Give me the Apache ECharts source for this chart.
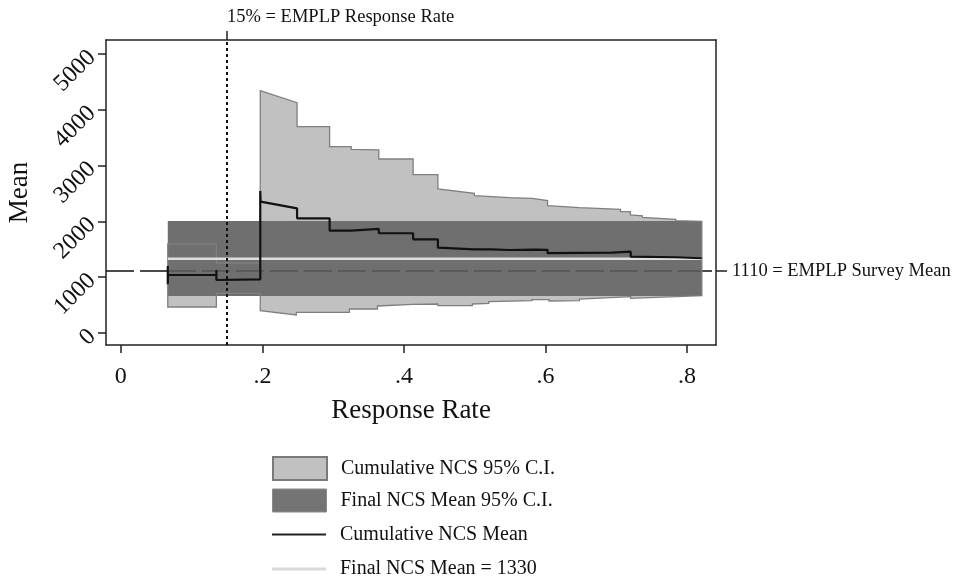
<!DOCTYPE html>
<html>
<head>
<meta charset="utf-8">
<script src="https://cdn.jsdelivr.net/npm/echarts@6/dist/echarts.min.js"></script>
<style>html,body{margin:0;padding:0;background:#fff;}#c{width:956px;height:581px;}</style>
</head>
<body>
<div id="c"></div>
<script>
// ---- data ----
const xTicks = [0, 0.2, 0.4, 0.6, 0.8];
const xTickLabels = ['0', '.2', '.4', '.6', '.8'];
const yTicks = [0, 1000, 2000, 3000, 4000, 5000];
const yTickLabels = ['0', '1000', '2000', '3000', '4000', '5000'];
const emplpRate = 0.15;
const emplpMean = 1110;
const finalMean = 1330;
const finalCI = [665, 2005];
const finalRange = [0.0663, 0.821];

const ciUpper = [[0.0663,1595],[0.135,1595],[0.135,1254],[0.197,1254],[0.197,4342],[0.249,4127],[0.249,3697],
  [0.295,3697],[0.295,3339],[0.3255,3339],[0.3255,3290],[0.3645,3280],[0.3645,3118],[0.413,3118],[0.413,2837],
  [0.448,2837],[0.448,2581],[0.4995,2504],[0.4995,2461],[0.549,2425],[0.581,2413],[0.603,2371],[0.603,2282],
  [0.648,2246],[0.706,2217],[0.706,2174],[0.72,2174],[0.72,2115],[0.737,2100],[0.737,2073],[0.784,2037],
  [0.784,2012],[0.821,2001]];
const ciLower = [[0.0663,466],[0.135,466],[0.135,711],[0.197,711],[0.197,400],[0.248,323],[0.248,371],[0.323,371],
  [0.323,430],[0.3626,430],[0.3626,484],[0.412,514],[0.448,520],[0.448,489],[0.4967,489],[0.4967,520],[0.52,532],
  [0.52,562],[0.581,580],[0.581,597],[0.605,597],[0.605,573],[0.648,580],[0.648,609],[0.7205,651],[0.7205,622],
  [0.821,670]];
const cumMean = [[0.0663,1200],[0.0663,875],[0.0665,1039],[0.135,1039],[0.135,1130],[0.135,950],[0.1355,962],
  [0.197,962],[0.197,2545],[0.1975,2353],[0.249,2234],[0.249,2055],[0.295,2055],[0.295,1833],[0.3255,1833],
  [0.3255,1864],[0.3645,1864],[0.3645,1787],[0.413,1787],[0.413,1679],[0.448,1679],[0.448,1529],[0.4995,1500],
  [0.523,1500],[0.549,1487],[0.584,1493],[0.603,1490],[0.603,1430],[0.694,1440],[0.694,1457],[0.7205,1457],
  [0.7205,1368],[0.784,1357],[0.821,1339]];

const xMin = -0.021, xMax = 0.841, yMin = -215, yMax = 5250;
const FONT = 'Liberation Serif';
const TXT = '#111';

const bandPoly = ciUpper.concat(ciLower.slice().reverse());

function polyItem(points, style) {
  return function (params, api) {
    return { type: 'polygon', shape: { points: points.map(p => api.coord(p)) }, style: style };
  };
}
function rectItem(params, api) {
  const p1 = api.coord([finalRange[0], finalCI[1]]);
  const p2 = api.coord([finalRange[1], finalCI[0]]);
  return { type: 'rect', shape: { x: p1[0], y: p1[1], width: p2[0] - p1[0], height: p2[1] - p1[1] },
           style: { fill: '#6f6f6f' } };
}
function lookup(ticks, labels) {
  return v => { const i = ticks.findIndex(t => Math.abs(t - v) < 1e-6); return i >= 0 ? labels[i] : ''; };
}

const chart = echarts.init(document.getElementById('c'), null, { renderer: 'canvas' });
const axisLine = { show: true, onZero: false, lineStyle: { color: '#222', width: 1.5 } };
const legendText = { fontFamily: FONT, fontSize: 20, color: TXT, padding: [0, 0, 0, 9] };

function legendRow(name, top, h, item) {
  return { orient: 'vertical', left: 267, top: top, itemWidth: 54, itemHeight: h, selectedMode: false,
    textStyle: legendText, data: [Object.assign({ name: name }, item)] };
}

chart.setOption({
  animation: false,
  backgroundColor: '#fff',
  grid: { left: 106, right: 240, top: 40, bottom: 236, containLabel: false, outerBoundsMode: 'none' },
  xAxis: [{
    type: 'value', min: xMin, max: xMax, position: 'bottom',
    axisLine: axisLine, splitLine: { show: false },
    axisTick: { show: true, length: 8, customValues: xTicks, lineStyle: { color: '#222', width: 1.5 } },
    axisLabel: { customValues: xTicks, margin: 20, fontFamily: FONT, fontSize: 24, color: TXT,
      formatter: lookup(xTicks, xTickLabels) },
    name: 'Response Rate', nameLocation: 'middle', nameGap: 52,
    nameTextStyle: { fontFamily: FONT, fontSize: 27, color: TXT }
  }, {
    type: 'value', min: xMin, max: xMax, position: 'top',
    axisLine: axisLine, splitLine: { show: false },
    axisTick: { show: true, length: 9, customValues: [emplpRate], lineStyle: { color: '#222', width: 1.5 } },
    axisLabel: { customValues: [emplpRate], margin: 13, align: 'left', fontFamily: FONT, fontSize: 18.5, color: TXT,
      formatter: () => '15% = EMPLP Response Rate' }
  }],
  yAxis: [{
    type: 'value', min: yMin, max: yMax, position: 'left',
    axisLine: axisLine, splitLine: { show: false },
    axisTick: { show: true, length: 8, customValues: yTicks, lineStyle: { color: '#222', width: 1.5 } },
    axisLabel: { customValues: yTicks, rotate: 45, margin: 14, fontFamily: FONT, fontSize: 24, color: TXT,
      formatter: lookup(yTicks, yTickLabels) },
    name: 'Mean', nameLocation: 'middle', nameGap: 73, nameRotate: 90,
    nameTextStyle: { fontFamily: FONT, fontSize: 27, color: TXT }
  }, {
    type: 'value', min: yMin, max: yMax, position: 'right',
    axisLine: axisLine, splitLine: { show: false },
    axisTick: { show: true, length: 11, customValues: [emplpMean], lineStyle: { color: '#222', width: 1.5 } },
    axisLabel: { customValues: [emplpMean], margin: 16, fontFamily: FONT, fontSize: 18.5, color: TXT,
      formatter: () => '1110 = EMPLP Survey Mean' }
  }],
  legend: [
    legendRow('Cumulative NCS 95% C.I.', 451, 23, { icon: 'rect', itemStyle: { color: '#c1c1c1', borderColor: '#7a7a7a', borderWidth: 2 } }),
    legendRow('Final NCS Mean 95% C.I.', 483.5, 23, { icon: 'rect', itemStyle: { color: '#747474', borderColor: '#8a8a8a', borderWidth: 1 } }),
    legendRow('Cumulative NCS Mean', 519.5, 2, { icon: 'rect', itemStyle: { color: '#222', borderWidth: 0 } }),
    legendRow('Final NCS Mean = 1330', 554, 3, { icon: 'rect', itemStyle: { color: '#dadada', borderWidth: 0 } })
  ],
  series: [
    { name: 'Cumulative NCS 95% C.I.', type: 'custom', coordinateSystem: 'cartesian2d', z: 1, silent: true,
      itemStyle: { color: '#c1c1c1' }, data: [ciUpper[0]],
      renderItem: polyItem(bandPoly, { fill: '#c1c1c1' }) },
    { name: 'surveyMeanBase', type: 'line', z: 2, silent: true, symbol: 'none',
      data: [[xMin, emplpMean], [xMax, emplpMean]],
      lineStyle: { color: '#111', width: 1.5, type: [28, 6] } },
    { name: 'Final NCS Mean 95% C.I.', type: 'custom', coordinateSystem: 'cartesian2d', z: 3, silent: true,
      itemStyle: { color: '#6f6f6f' }, data: [[finalRange[0], finalCI[0]]],
      renderItem: rectItem },
    { name: 'surveyMeanOver', type: 'line', z: 4, silent: true, symbol: 'none',
      data: [[finalRange[0], emplpMean], [finalRange[1], emplpMean]],
      lineStyle: { color: '#545454', width: 1.5, type: [28, 6] } },
    { name: 'ciOutline', type: 'custom', coordinateSystem: 'cartesian2d', z: 5, silent: true,
      data: [ciUpper[0]],
      renderItem: polyItem(bandPoly, { fill: 'none', stroke: '#7f7f7f', lineWidth: 1.3 }) },
    { name: 'Final NCS Mean = 1330', type: 'line', z: 6, silent: true, symbol: 'none',
      data: [[finalRange[0], finalMean], [finalRange[1], finalMean]],
      itemStyle: { color: '#dedede' },
      lineStyle: { color: '#dedede', width: 2.5 } },
    { name: 'Cumulative NCS Mean', type: 'line', z: 7, silent: true, symbol: 'none',
      data: cumMean, itemStyle: { color: '#111' },
      lineStyle: { color: '#111', width: 2.2 } },
    { name: 'emplpRateLine', type: 'line', z: 8, silent: true, symbol: 'none',
      data: [[emplpRate, yMin], [emplpRate, yMax]],
      lineStyle: { color: '#111', width: 2, type: [3, 3] } }
  ]
});
</script>
</body>
</html>
